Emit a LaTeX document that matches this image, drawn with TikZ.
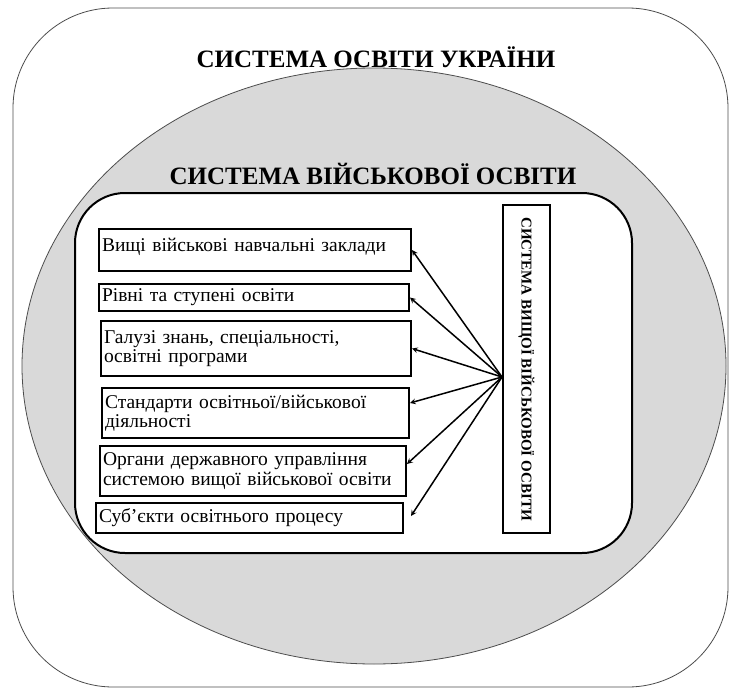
\documentclass[tikz,border=0pt]{standalone}
\usepackage{fontspec}
\setmainfont{Liberation Serif}
\usetikzlibrary{positioning}

\begin{document}
\begin{tikzpicture}[x=1pt,y=-1pt,-,>=stealth,thick,
    title/.style={font=\bfseries\fontsize{25}{28}\selectfont},
    box/.style={draw,line width=2pt,anchor=north west,align=left,inner xsep=3pt,inner ysep=4pt,font=\fontsize{19.5}{19.5}\selectfont},
    sysbox/.style={draw,line width=2pt,rotate=-90,minimum width=328pt,minimum height=47pt,font=\bfseries\fontsize{15}{17}\selectfont},
    link/.style={->,line width=1.5pt}]

    \useasboundingbox (0,0) rectangle (729,688);

    % outer frame, grey field, inner frame
    \draw[draw=black!70,line width=0.8pt,rounded corners=100pt] (13,8) rectangle (728,687);
    \draw[draw=black!70,fill=black!15,line width=0.8pt] (374,366) ellipse [x radius=352pt,y radius=298pt];
    \draw[fill=white,line width=2pt,rounded corners=50pt] (75,193) rectangle (632,553);

    \node[title] (ua) at (376,57) {СИСТЕМА ОСВІТИ УКРАЇНИ};
    \node[title] (mil) at (373,174) {СИСТЕМА ВІЙСЬКОВОЇ ОСВІТИ};

    \node[sysbox] (sys) at (526.5,369) {СИСТЕМА ВИЩОЇ ВІЙСЬКОВОЇ ОСВІТИ};
    \coordinate (hub) at ([yshift=-8pt]sys.south);

    \node[box,text width=306pt,text height=18pt,text depth=16pt] (b1) at (98,228) {Вищі військові навчальні заклади};
    \node[box,text width=304pt,minimum height=27pt] (b2) at (98,283) {Рівні та ступені освіти};
    \node[box,text width=304pt,minimum height=55pt] (b3) at (100,320) {Галузі знань, спеціальності,\\освітні програми};
    \node[box,text width=301pt,minimum height=50pt] (b4) at (101,387) {Стандарти освітньої/військової\\діяльності};
    \node[box,text width=300pt,minimum height=50pt] (b5) at (99,445) {Органи державного управління\\системою вищої військової освіти};
    \node[box,text width=301pt,minimum height=30pt] (b6) at (95,502) {Суб’єкти освітнього процесу};

    \draw[link] (hub) -- (b1.east);
    \draw[link] (hub) -- (b2.east);
    \draw[link] (hub) -- (b3.east);
    \draw[link] (hub) -- ([yshift=10pt]b4.east);
    \draw[link] (hub) -- ([yshift=7pt]b5.east);
    \draw[link] (hub) -- ([xshift=7pt,yshift=2pt]b6.east);
\end{tikzpicture}
\end{document}
